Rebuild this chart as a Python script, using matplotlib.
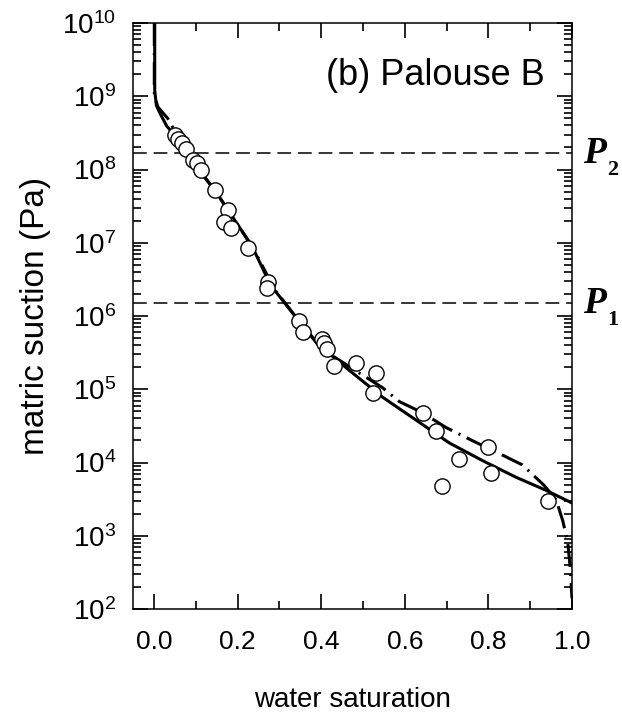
import matplotlib
matplotlib.use("Agg")
import matplotlib.pyplot as plt
import matplotlib.transforms as mtransforms
from matplotlib.ticker import LogLocator, LogFormatterMathtext, MultipleLocator, FormatStrFormatter

plt.rcParams['font.family'] = ['Liberation Sans', 'DejaVu Sans']
plt.rcParams['mathtext.fontset'] = 'custom'
plt.rcParams['mathtext.rm'] = 'Liberation Sans'
plt.rcParams['mathtext.it'] = 'Liberation Sans:italic'
plt.rcParams['mathtext.bf'] = 'Liberation Sans:bold'

# measured data points
sat_obs = [0.050, 0.057, 0.067, 0.076, 0.093, 0.103, 0.112, 0.146, 0.177, 0.167,
           0.184, 0.224, 0.274, 0.270, 0.348, 0.356, 0.401, 0.408, 0.415, 0.430,
           0.484, 0.532, 0.525, 0.644, 0.675, 0.730, 0.800, 0.807, 0.690, 0.943]
suction_obs = [2.95e8, 2.63e8, 2.29e8, 1.91e8, 1.35e8, 1.23e8, 9.8e7, 5.2e7, 2.8e7, 1.9e7,
               1.6e7, 8.5e6, 2.9e6, 2.4e6, 8.5e5, 6.0e5, 4.9e5, 4.3e5, 3.6e5, 2.1e5,
               2.3e5, 1.66e5, 8.9e4, 4.8e4, 2.7e4, 1.12e4, 1.62e4, 7.2e3, 4.8e3, 2.95e3]

# solid model curve
sat_solid = [0.002, 0.002, 0.006, 0.015, 0.031, 0.050, 0.070, 0.093, 0.117, 0.150,
             0.198, 0.236, 0.277, 0.289, 0.332, 0.389, 0.468, 0.547, 0.627, 0.706,
             0.785, 0.866, 0.937, 1.000]
suction_solid = [1e10, 1.2e9, 7.5e8, 5.8e8, 3.9e8, 2.95e8, 2.1e8, 1.35e8, 8.5e7, 4.8e7,
                 1.86e7, 8.7e6, 2.8e6, 2.24e6, 1.1e6, 4.3e5, 1.8e5, 7.8e4, 3.8e4, 1.86e4,
                 1.07e4, 6.3e3, 4.2e3, 2.8e3]

# dash-dot model curve
sat_dd = [0.001, 0.001, 0.010, 0.033, 0.055, 0.093, 0.117, 0.150, 0.198, 0.236,
          0.289, 0.332, 0.389, 0.432, 0.492, 0.547, 0.587, 0.642, 0.699, 0.761,
          0.838, 0.881, 0.933, 0.962, 0.978, 0.990, 0.996, 1.000]
suction_dd = [1e10, 1.0e9, 7.1e8, 5.0e8, 3.0e8, 1.35e8, 8.5e7, 4.8e7, 1.86e7, 8.7e6,
              2.3e6, 1.1e6, 4.4e5, 2.75e5, 1.66e5, 1.05e5, 6.8e4, 4.8e4, 3.0e4, 2.0e4,
              1.23e4, 9.3e3, 4.9e3, 3.1e3, 1.6e3, 8e2, 3.5e2, 1.4e2]

P1 = 1.5e6
P2 = 1.68e8
label_text = "(b) Palouse B"
xlabel = "water saturation"
ylabel = "matric suction (Pa)"

fig = plt.figure(figsize=(6.22, 7.16), dpi=100)
ax = fig.add_axes([0.2138, 0.1494, 0.7058, 0.8184])

ax.axhline(P2, color='black', lw=1.1, ls=(0, (9, 4.5)), zorder=1)
ax.axhline(P1, color='black', lw=1.1, ls=(0, (9, 4.5)), zorder=1)

ax.plot(sat_solid, suction_solid, color='black', lw=2.2, solid_capstyle='butt', zorder=2)
ax.plot(sat_dd, suction_dd, color='black', lw=2.2, ls=(0, (7.5, 2.3, 0.7, 2.3)),
        dash_capstyle='butt', zorder=2)
ax.plot(sat_obs, suction_obs, ls='none', marker='o', ms=11, mfc='white', mec='black',
        mew=1.0, zorder=3)

ax.set_yscale('log')
ax.set_xlim(-0.05, 1.0)
ax.set_ylim(1e2, 1e10)

ax.xaxis.set_major_locator(MultipleLocator(0.2))
ax.xaxis.set_minor_locator(MultipleLocator(0.1))
ax.xaxis.set_major_formatter(FormatStrFormatter('%.1f'))
ax.yaxis.set_major_locator(LogLocator(base=10, numticks=20))
ax.yaxis.set_minor_locator(LogLocator(base=10, subs=range(2, 10), numticks=20))
ax.yaxis.set_major_formatter(LogFormatterMathtext())

ax.tick_params(which='both', direction='in', top=True, right=True, width=1.2)
ax.tick_params(which='major', length=11)
ax.tick_params(which='minor', length=6)
ax.tick_params(axis='x', which='major', labelsize=19, pad=15)
ax.tick_params(axis='y', which='major', labelsize=20, pad=12)

for sp in ax.spines.values():
    sp.set_linewidth(1.1)

ax.set_xlabel(xlabel, fontsize=20, labelpad=24)
ax.set_ylabel(ylabel, fontsize=24, labelpad=8)

ax.text(0.938, 0.894, label_text, transform=ax.transAxes, ha='right', va='baseline',
        fontsize=26)

trans = mtransforms.blended_transform_factory(ax.transAxes, ax.transData)
sub_trans = mtransforms.offset_copy(trans, fig=fig, x=0, y=-16, units='points')
for val, sub in [(P2, '2'), (P1, '1')]:
    ax.text(1.025, val, 'P', transform=trans, ha='left', va='center', fontsize=27,
            family='Liberation Serif', weight='bold', style='italic', clip_on=False)
    ax.text(1.080, val, sub, transform=sub_trans, ha='left', va='baseline', fontsize=16,
            family='Liberation Serif', weight='bold', clip_on=False)

fig.savefig('out.png', dpi=100)
